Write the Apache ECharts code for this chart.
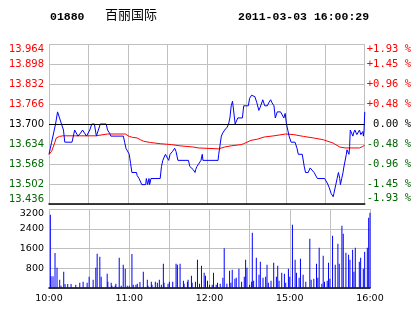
<!DOCTYPE html>
<html>
<head>
<meta charset="utf-8">
<script src="https://cdn.jsdelivr.net/npm/echarts@6/dist/echarts.min.js"></script>
<style>
html,body{margin:0;padding:0;background:#fff;}
#chart{width:414px;height:314px;}
</style>
</head>
<body>
<div id="chart"></div>
<script>
// ---- header ----
const stockCode = '01880';
const stockName = '百丽国际';
const stamp = '2011-03-03 16:00:29';

// ---- axes ----
const prevClose = 13.700;
const priceMin = 13.436;
const priceMax = 13.964;
const priceStep = 0.066;
const volMax = 3200;
const volStep = 800;
const timeLabels = ['10:00', '11:00', '12:00', '15:00', '16:00']; // every 60 trading minutes

// ---- price line (trading minute since 10:00, price) ----
const lineMinutes = [0,1,2,5,6.5,8,9.5,11,12,17.5,19.5,21,22,24,25.5,27,28.5,29.5,31,32.5,34.5,36,37.5,39,43.5,44.5,46,47,56.5,57.5,58.5,60,61,62,63,66.5,67,68.5,70.5,73.5,74,75,76,76.5,77.5,84.5,85.5,86.5,88.5,89.5,91,92,94,95.5,96.5,98,106,107,108.5,109.5,111,111.5,112.5,114,115.5,116.5,117,128.5,129,131,132,133.5,135.5,136.5,137.5,138.5,139.5,140.5,141.5,142.5,143.5,147,148,151.5,152.5,154,155.5,156.5,158,159.5,160.5,162.5,164,166,167,168.5,169.5,171,172,173.5,176,177.5,178.5,179.5,180.5,181.5,182.5,184,187,188.5,189.5,192.5,194,195,197,198.5,200,201.5,202.5,204,209.5,211.5,213,214.5,216,216.5,218,219,220,221,221.5,222.5,223.5,224,225,226,226.5,228,228.5,229,230,231,231.5,232.5,234,235,236,237,238,238.5,239,239.5,240];
const linePrices = [13.60,13.62,13.64,13.70,13.74,13.72,13.70,13.68,13.64,13.64,13.68,13.675,13.66,13.67,13.68,13.67,13.66,13.66,13.68,13.70,13.70,13.66,13.66,13.70,13.70,13.68,13.67,13.66,13.66,13.64,13.62,13.62,13.60,13.57,13.54,13.54,13.53,13.52,13.50,13.50,13.52,13.50,13.52,13.50,13.52,13.52,13.56,13.58,13.60,13.60,13.58,13.60,13.61,13.62,13.61,13.58,13.58,13.56,13.56,13.55,13.54,13.55,13.56,13.56,13.58,13.60,13.58,13.58,13.60,13.66,13.67,13.68,13.69,13.70,13.72,13.76,13.775,13.78,13.70,13.71,13.72,13.72,13.76,13.76,13.785,13.795,13.80,13.79,13.77,13.745,13.755,13.78,13.76,13.76,13.77,13.78,13.77,13.76,13.72,13.74,13.74,13.735,13.72,13.735,13.70,13.68,13.66,13.64,13.64,13.62,13.60,13.60,13.56,13.54,13.54,13.555,13.56,13.54,13.535,13.52,13.52,13.505,13.49,13.47,13.46,13.47,13.50,13.52,13.54,13.52,13.50,13.52,13.54,13.555,13.56,13.60,13.615,13.60,13.625,13.68,13.675,13.66,13.67,13.68,13.665,13.66,13.68,13.665,13.66,13.675,13.66,13.68,13.74];

// ---- average price line ----
const avgMinutes = [0,2,4.5,5.5,8,10.5,35.5,36,44.5,58,58.5,61,63.5,67,69.5,72,77,84.5,93,99.5,109.5,113.5,129,130,133.5,138.5,146,148,153.5,158.5,163.5,171,180,186,193.5,201,208.5,216,221,225,236,238.5,240];
const avgPrices = [13.60,13.61,13.64,13.654,13.659,13.661,13.661,13.665,13.667,13.667,13.665,13.659,13.656,13.654,13.648,13.643,13.639,13.635,13.632,13.628,13.624,13.621,13.618,13.621,13.624,13.628,13.632,13.635,13.646,13.650,13.657,13.661,13.667,13.665,13.659,13.654,13.648,13.637,13.624,13.621,13.621,13.626,13.630];

// ---- volume ----
const volMinutes = [1,1.5,3,4.5,6,8,9,11,12,14,16.5,20,23,25.5,28.5,30,33,35,36,38,39,43.5,44,46.5,47,49.5,50,52.5,54,55.5,57,58.5,60,62,63,65,66,68,70.5,73.5,74,76.5,77,79.5,81,82.5,84,85.5,86,89,90,92.5,95,96,98,100.5,101,103.5,104,106.5,107,109.5,111,112.5,114,116,117,118.5,120,122,123,125,126,128,130,131,133,135,136,137,139,140,142,144,146,147,148,150,151.5,152,153,155,157,158,160,162,163,164,166,168,170,171,172,174,176,177,179,180,182,184,185,187,188,190,192,195,196,198,200,201,202,204,205,206,208,209,210,212,214,216,217,219,220,222,224,225,227,228,229,232,233,235,236,238,239,240];
const volValues = [2970,472,472,1417,823,337,94,661,162,162,162,135,216,256,216,459,337,823,1390,1269,459,580,256,216,94,94,175,1228,94,945,783,94,94,1377,135,135,175,243,661,337,94,256,135,256,216,337,135,985,216,175,256,256,985,945,985,297,175,256,337,500,216,256,1148,175,905,621,500,297,135,135,621,135,216,175,418,1606,175,702,216,742,378,418,783,256,459,1148,823,135,256,2241,297,1228,540,1066,418,459,945,216,297,1026,459,905,297,621,580,216,783,459,2565,1148,621,418,1188,540,256,1998,337,378,985,418,1633,175,1309,256,297,1026,378,2119,945,1795,985,2524,2200,1431,1350,1148,1552,661,1633,1066,1228,783,1471,1633,2849,3051];

const RED = '#ff0000', GREEN = '#006600', GRID = '#c0c0c0';
const zip = (a, b) => a.map((v, i) => [v, b[i]]);
const pct = v => (v / prevClose - 1) * 100;

const chart = echarts.init(document.getElementById('chart'), null, {renderer: 'canvas'});
chart.setOption({
  animation: false,
  backgroundColor: '#ffffff',
  graphic: [
    {type: 'text', left: 50, top: 11, style: {text: stockCode, font: 'bold 11.5px "Liberation Mono", monospace', fill: '#000'}},
    {type: 'text', left: 105, top: 8, style: {text: stockName, font: '13px "Noto Sans CJK SC", sans-serif', fill: '#000'}},
    {type: 'text', left: 238, top: 11, style: {text: stamp, font: 'bold 11.5px "Liberation Mono", monospace', fill: '#000'}}
  ],
  grid: [
    {left: 49, width: 321, top: 44, height: 160},
    {left: 49, width: 321, top: 209, height: 79}
  ],
  xAxis: [
    {type: 'value', gridIndex: 0, min: 0, max: 240, interval: 30,
     axisLine: {show: true, onZero: false, lineStyle: {color: '#000', width: 1.5}},
     axisTick: {show: false}, axisLabel: {show: false},
     splitLine: {show: true, lineStyle: {color: GRID, width: 1}}},
    {type: 'value', gridIndex: 1, min: 0, max: 240, interval: 30,
     axisLine: {show: true, onZero: false, lineStyle: {color: '#000', width: 1.5}},
     axisTick: {show: false},
     axisLabel: {show: true, margin: 6, color: '#000', fontFamily: 'DejaVu Sans', fontSize: 9.5,
       formatter: v => (v % 60 === 0 ? timeLabels[v / 60] : '')},
     splitLine: {show: true, lineStyle: {color: GRID, width: 1}}}
  ],
  yAxis: [
    {type: 'value', gridIndex: 0, min: priceMin, max: priceMax, interval: priceStep,
     axisLine: {show: false}, axisTick: {show: false},
     axisLabel: {show: true, margin: 5, fontFamily: 'DejaVu Sans', fontSize: 10,
       verticalAlignMinLabel: 'bottom', verticalAlignMaxLabel: 'top',
       formatter: v => v.toFixed(3),
       color: v => (Math.abs(v - prevClose) < 1e-6 ? '#000' : (v > prevClose ? RED : GREEN))},
     splitLine: {show: true, lineStyle: {color: GRID, width: 1}}},
    {type: 'value', gridIndex: 0, position: 'right', min: pct(priceMin), max: pct(priceMax), interval: pct(priceMax) / 4,
     axisLine: {show: false}, axisTick: {show: false},
     axisLabel: {show: true, margin: 2, fontFamily: 'DejaVu Sans Mono', fontSize: 10.5,
       verticalAlignMinLabel: 'bottom', verticalAlignMaxLabel: 'top',
       formatter: v => (Math.abs(v) < 1e-6 ? ' 0.00 %' : (v > 0 ? '+' : '-') + Math.abs(v).toFixed(2) + ' %'),
       color: v => (Math.abs(v) < 1e-6 ? '#000' : (v > 0 ? RED : GREEN))},
     splitLine: {show: false}},
    {type: 'value', gridIndex: 1, min: 0, max: volMax, interval: volStep,
     axisLine: {show: false}, axisTick: {show: false},
     axisLabel: {show: true, margin: 5, color: '#000', fontFamily: 'DejaVu Sans', fontSize: 9.5,
       verticalAlignMaxLabel: 'top',
       formatter: v => (v === 0 ? '' : String(v))},
     splitLine: {show: true, lineStyle: {color: GRID, width: 1}}}
  ],
  series: [
    {type: 'line', xAxisIndex: 0, yAxisIndex: 0, data: [], silent: true,
     markLine: {silent: true, symbol: 'none', label: {show: false},
       lineStyle: {color: '#000', width: 1, type: 'solid'},
       data: [{yAxis: prevClose}]}},
    {type: 'line', name: 'avg', xAxisIndex: 0, yAxisIndex: 0, data: zip(avgMinutes, avgPrices),
     showSymbol: false, lineStyle: {color: RED, width: 1}, itemStyle: {color: RED}},
    {type: 'line', name: 'price', xAxisIndex: 0, yAxisIndex: 0, data: zip(lineMinutes, linePrices),
     showSymbol: false, lineStyle: {color: '#0000ff', width: 1}, itemStyle: {color: '#0000ff'}},
    {type: 'bar', name: 'vol', xAxisIndex: 1, yAxisIndex: 2, data: zip(volMinutes, volValues),
     barWidth: 1, itemStyle: {color: '#0000ff'}}
  ]
});
</script>
</body>
</html>
